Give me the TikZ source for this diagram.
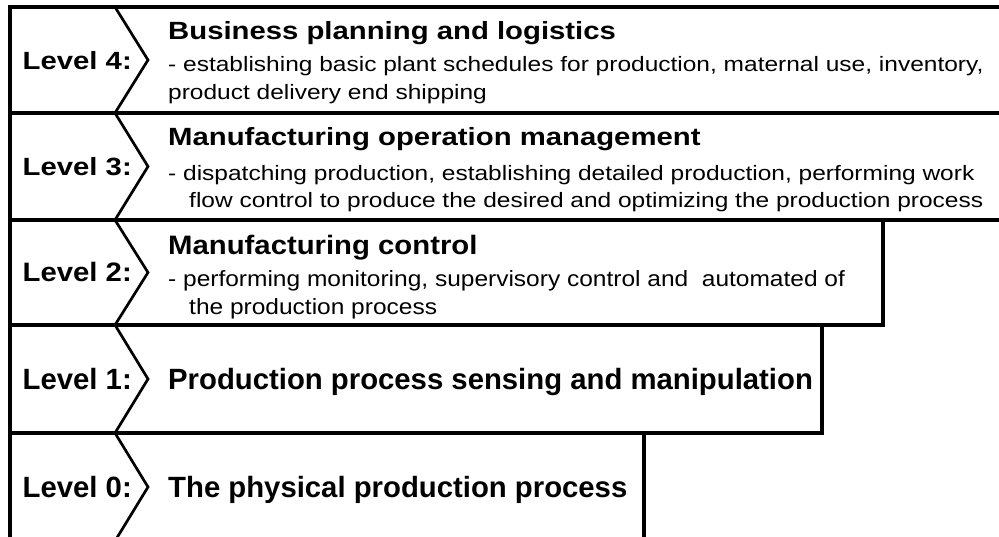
\documentclass[tikz,border=0pt]{standalone}
\usepackage{fontspec}
\setmainfont{Liberation Sans}
\usepackage{graphicx}
\newcommand\vsq[2]{\scalebox{1}[#1]{#2}}
\begin{document}
\begin{tikzpicture}[x=1pt,y=-1pt,
  rowline/.style={line width=3.6pt, line cap=rect},
  chev/.style={line width=2.7pt, line join=miter},
  lab/.style={anchor=base west, inner sep=0pt, font=\fontsize{29.3}{32}\selectfont\bfseries},
  ttl/.style={anchor=base west, inner sep=0pt, font=\fontsize{29.3}{32}\selectfont\bfseries},
  desc/.style={anchor=base west, inner sep=0pt, font=\fontsize{24.5}{27}\selectfont}]
\useasboundingbox (0,0) rectangle (999,537);
\fill[white] (0,0) rectangle (999,537);
\begin{scope}
\clip (0,0) rectangle (999,537);
% row outlines
\draw[rowline] (1010,7) -- (10,7) -- (10,550);
\draw[rowline] (10,113) -- (1010,113);
\draw[rowline] (10,220) -- (1010,220);
\draw[rowline] (10,325) -- (883,325) -- (883,220);
\draw[rowline] (10,433) -- (822,433) -- (822,325);
\draw[rowline] (644,433) -- (644,550);
% chevrons
\coordinate (c4a) at (115,7);   \coordinate (c4t) at (148,60);  \coordinate (c4b) at (115,113);
\coordinate (c3a) at (115,113); \coordinate (c3t) at (148,166.5); \coordinate (c3b) at (115,220);
\coordinate (c2a) at (115,220); \coordinate (c2t) at (148,272.5); \coordinate (c2b) at (115,325);
\coordinate (c1a) at (115,325); \coordinate (c1t) at (148,379); \coordinate (c1b) at (115,433);
\coordinate (c0a) at (115,433); \coordinate (c0t) at (148,487); \coordinate (c0b) at (115,541);
\draw[chev] (c4a) -- (c4t) -- (c4b);
\draw[chev] (c3a) -- (c3t) -- (c3b);
\draw[chev] (c2a) -- (c2t) -- (c2b);
\draw[chev] (c1a) -- (c1t) -- (c1b);
\draw[chev] (c0a) -- (c0t) -- (c0b);
\end{scope}
% labels
\node[lab] (l4) at (22.5,70) {\vsq{0.85}{Level 4:}};
\node[lab] (l3) at (22.5,176) {\vsq{0.85}{Level 3:}};
\node[lab] (l2) at (22.5,282) {\vsq{0.91}{Level 2:}};
\node[lab] (l1) at (22.5,389) {Level 1:};
\node[lab] (l0) at (22.5,497) {Level 0:};
% level 4
\node[ttl] (t4) at (168,40) {\vsq{0.85}{Business planning and logistics}};
\node[desc] (d4a) at (168,72) {\vsq{0.85}{- establishing basic plant schedules for production, maternal use, inventory,}};
\node[desc] (d4b) at (168,100) {\vsq{0.85}{product delivery end shipping}};
% level 3
\node[ttl] (t3) at (168,146) {\vsq{0.85}{Manufacturing operation management}};
\node[desc] (d3a) at (168,181) {\vsq{0.85}{- dispatching production, establishing detailed production, performing work}};
\node[desc] (d3b) at (189,208) {\vsq{0.85}{flow control to produce the desired and optimizing the production process}};
% level 2
\node[ttl] (t2) at (168,255) {\vsq{0.91}{Manufacturing control}};
\node[desc] (d2a) at (168,287) {\vsq{0.9}{- performing monitoring, supervisory control and\ \ automated of}};
\node[desc] (d2b) at (189,315) {\vsq{0.9}{the production process}};
% level 1 and 0
\node[ttl] (t1) at (168,389) {Production process sensing and manipulation};
\node[ttl] (t0) at (168,497) {The physical production process};
\end{tikzpicture}
\end{document}
